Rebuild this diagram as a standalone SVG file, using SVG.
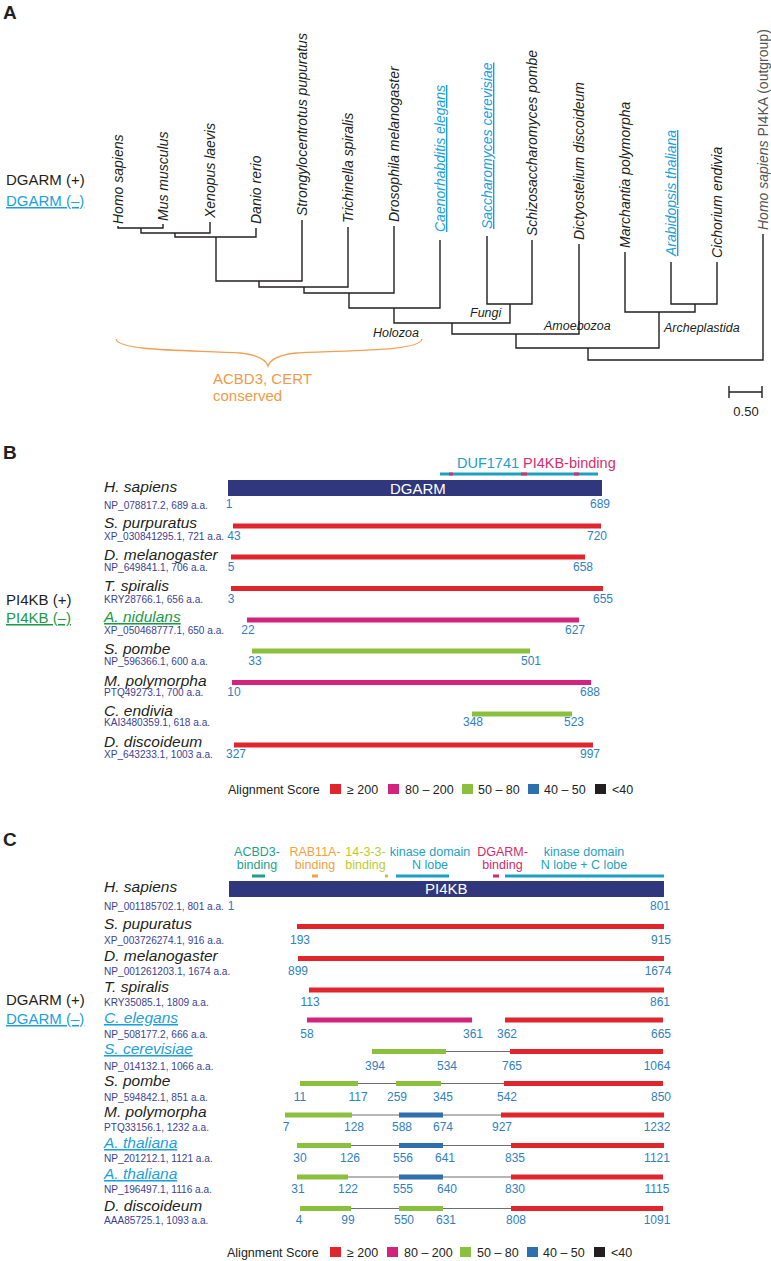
<svg xmlns="http://www.w3.org/2000/svg" width="771" height="1261" viewBox="0 0 771 1261">
<style>
text{font-family:"Liberation Sans",Arial,sans-serif;}
.pl{font-size:19px;font-weight:bold;fill:#231f20;}
.leaf{font-size:14px;font-style:italic;fill:#231f20;}
.leafb{font-size:14px;font-style:italic;fill:#1ca0dc;text-decoration:underline;}
.clade{font-size:12.5px;font-style:italic;fill:#231f20;}
.tree{fill:none;stroke:#231f20;stroke-width:1.4;}
.side{font-size:15px;fill:#231f20;}
.sideb{font-size:15px;fill:#1ca0dc;text-decoration:underline;}
.sideg{font-size:15px;fill:#1a9a48;text-decoration:underline;}
.sp{font-size:15.5px;font-style:italic;fill:#231f20;}
.spb{font-size:15.5px;font-style:italic;fill:#1ca0dc;text-decoration:underline;}
.spg{font-size:15.5px;font-style:italic;fill:#1a9a48;text-decoration:underline;}
.acc{font-size:10.1px;fill:#3d3f91;}
.num{font-size:12px;fill:#2f7fc1;text-anchor:middle;}
.navy{fill:#30377c;}
.bt{font-size:15px;fill:#ffffff;}
.r{stroke:#e0262c;stroke-width:5;}
.m{stroke:#d4237c;stroke-width:5;}
.g{stroke:#8bbf3e;stroke-width:5;}
.b{stroke:#2e6fae;stroke-width:5;}
.ln{stroke:#6d6d6d;stroke-width:1;}
.leg{font-size:12.5px;fill:#231f20;}
.dom{font-size:12.5px;text-anchor:middle;}
</style>

<!-- Panel A -->
<text class="pl" x="3" y="19">A</text>
<g id="legendA">
<text class="side" x="6" y="185">DGARM (+)</text>
<text class="sideb" x="6" y="206">DGARM (–)</text>
</g>
<g id="leaves">
<text class="leaf" transform="translate(123,224) rotate(-90)">Homo sapiens</text>
<text class="leaf" transform="translate(168,221) rotate(-90)">Mus musculus</text>
<text class="leaf" transform="translate(215,218) rotate(-90)">Xenopus laevis</text>
<text class="leaf" transform="translate(261,224) rotate(-90)">Danio rerio</text>
<text class="leaf" transform="translate(307,216) rotate(-90)">Strongylocentrotus pupuratus</text>
<text class="leaf" transform="translate(353,223) rotate(-90)">Trichinella spiralis</text>
<text class="leaf" transform="translate(399,222) rotate(-90)">Drosophila melanogaster</text>
<text class="leafb" transform="translate(445,232) rotate(-90)">Caenorhabditis elegans</text>
<text class="leafb" transform="translate(492,229) rotate(-90)">Saccharomyces cerevisiae</text>
<text class="leaf" transform="translate(537,236) rotate(-90)">Schizosaccharomyces pombe</text>
<text class="leaf" transform="translate(584,240) rotate(-90)">Dictyostelium discoideum</text>
<text class="leaf" transform="translate(630,248) rotate(-90)">Marchantia polymorpha</text>
<text class="leafb" transform="translate(676,256) rotate(-90)">Arabidopsis thaliana</text>
<text class="leaf" transform="translate(722,258) rotate(-90)">Cichorium endivia</text>
<text class="leaf" style="fill:#555;font-style:normal" transform="translate(768,230) rotate(-90)"><tspan font-style="italic">Homo sapiens</tspan> PI4KA (outgroup)</text>
</g>
<g id="tree" class="tree">
<path d="M118 226V228H163V224"/>
<path d="M141 228V233H210V222"/>
<path d="M175 233V237H256V228"/>
<path d="M216 237V281H302V220"/>
<path d="M259 281V287H348V227"/>
<path d="M304 287V293H394V226"/>
<path d="M349 293V308H440V240"/>
<path d="M487 236V304H532V240"/>
<path d="M394 308V323H510V304"/>
<path d="M452 323V334H579V244"/>
<path d="M671 262V304H717V262"/>
<path d="M625 252V312H695V304"/>
<path d="M516 334V348H659V312"/>
<path d="M588 348V360H763V234"/>
</g>
<g id="clades">
<text class="clade" x="373" y="337">Holozoa</text>
<text class="clade" x="470" y="317">Fungi</text>
<text class="clade" x="544" y="330">Amoebozoa</text>
<text class="clade" x="664" y="332">Archeplastida</text>
</g>
<g id="brace">
<path d="M116 339C118 352 200 350 240 353C258 355 266 360 268 366C270 360 278 355 296 353C340 350 420 352 422 339" fill="none" stroke="#f0a050" stroke-width="1.3"/>
<text x="213" y="384" style="font-size:15px;fill:#ef9a48">ACBD3, CERT</text>
<text x="213" y="401" style="font-size:15px;fill:#ef9a48">conserved</text>
</g>
<g id="scalebar">
<path d="M729 392H762M729 386V398M762 386V398" stroke="#231f20" stroke-width="1.4" fill="none"/>
<text x="746" y="416" style="font-size:13px;fill:#231f20;text-anchor:middle">0.50</text>
</g>

<!-- Panel B -->
<text class="pl" x="3" y="459">B</text>
<g id="legendB-side">
<text class="side" x="6" y="605">PI4KB (+)</text>
<text class="sideg" x="6" y="623">PI4KB (–)</text>
</g>
<g id="domainsB">
<text x="457" y="468" style="font-size:14.5px;fill:#1ea0c2">DUF1741</text>
<text x="523" y="468" style="font-size:14.5px;fill:#d2306e">PI4KB-binding</text>
<path d="M440 474H598" stroke="#1ea0c2" stroke-width="3"/>
<path d="M449 474H453M521 474H527M574 474H579" stroke="#d2306e" stroke-width="3"/>
</g>
<g id="B-hsap">
<text class="sp" x="104" y="492">H. sapiens</text>
<rect class="navy" x="228" y="480" width="374" height="16"/>
<text class="bt" x="390" y="494">DGARM</text>
<text class="acc" x="104" y="509">NP_078817.2, 689 a.a.</text>
<text class="num" x="229" y="508">1</text><text class="num" x="600" y="508">689</text>
</g>
<g id="B-spur">
<text class="sp" x="104" y="528">S. purpuratus</text>
<path class="r" d="M233 526H601"/>
<text class="acc" x="104" y="540">XP_030841295.1, 721 a.a.</text>
<text class="num" x="234" y="540">43</text><text class="num" x="597" y="540">720</text>
</g>
<g id="B-dmel">
<text class="sp" x="104" y="560">D. melanogaster</text>
<path class="r" d="M231 557H585"/>
<text class="acc" x="104" y="571">NP_649841.1, 706 a.a.</text>
<text class="num" x="231" y="571">5</text><text class="num" x="583" y="571">658</text>
</g>
<g id="B-tspi">
<text class="sp" x="104" y="591">T. spiralis</text>
<path class="r" d="M231 588.5H603"/>
<text class="acc" x="104" y="603">KRY28766.1, 656 a.a.</text>
<text class="num" x="231" y="603">3</text><text class="num" x="603" y="603">655</text>
</g>
<g id="B-anid">
<text class="spg" x="104" y="622">A. nidulans</text>
<path class="m" d="M247 620H579"/>
<text class="acc" x="104" y="634">XP_050468777.1, 650 a.a.</text>
<text class="num" x="248" y="634">22</text><text class="num" x="575" y="634">627</text>
</g>
<g id="B-spom">
<text class="sp" x="104" y="654">S. pombe</text>
<path class="g" d="M252 651H530"/>
<text class="acc" x="104" y="665">NP_596366.1, 600 a.a.</text>
<text class="num" x="255" y="665">33</text><text class="num" x="531" y="665">501</text>
</g>
<g id="B-mpol">
<text class="sp" x="104" y="686">M. polymorpha</text>
<path class="m" d="M232 682.5H591"/>
<text class="acc" x="104" y="696">PTQ49273.1, 700 a.a.</text>
<text class="num" x="234" y="696">10</text><text class="num" x="590" y="696">688</text>
</g>
<g id="B-cend">
<text class="sp" x="104" y="716">C. endivia</text>
<path class="g" d="M472 714H572"/>
<text class="acc" x="104" y="726">KAI3480359.1, 618 a.a.</text>
<text class="num" x="473" y="726">348</text><text class="num" x="574" y="726">523</text>
</g>
<g id="B-ddis">
<text class="sp" x="104" y="747">D. discoideum</text>
<path class="r" d="M234 745H593"/>
<text class="acc" x="104" y="758">XP_643233.1, 1003 a.a.</text>
<text class="num" x="236" y="758">327</text><text class="num" x="590" y="758">997</text>
</g>
<g id="legendB">
<text class="leg" x="228" y="794">Alignment Score</text>
<rect x="330" y="784" width="11" height="10" fill="#e0262c"/><text class="leg" x="347" y="794">≥ 200</text>
<rect x="388" y="784" width="11" height="10" fill="#d4237c"/><text class="leg" x="405" y="794">80 – 200</text>
<rect x="462" y="784" width="11" height="10" fill="#8bbf3e"/><text class="leg" x="478" y="794">50 – 80</text>
<rect x="528" y="784" width="11" height="10" fill="#2e6fae"/><text class="leg" x="544" y="794">40 – 50</text>
<rect x="595" y="784" width="11" height="10" fill="#231f20"/><text class="leg" x="612" y="794">&lt;40</text>
</g>

<!-- Panel C -->
<text class="pl" x="3" y="846">C</text>
<g id="legendC-side">
<text class="side" x="6" y="1005">DGARM (+)</text>
<text class="sideb" x="6" y="1024">DGARM (–)</text>
</g>
<g id="domainsC">
<text class="dom" x="257" y="856" fill="#1f9e8c">ACBD3-</text><text class="dom" x="257" y="869" fill="#1f9e8c">binding</text>
<path d="M252 876H265" stroke="#1f9e8c" stroke-width="3"/>
<text class="dom" x="315" y="856" fill="#f4a142">RAB11A-</text><text class="dom" x="315" y="869" fill="#f4a142">binding</text>
<path d="M312 876H318" stroke="#f4a142" stroke-width="3"/>
<text class="dom" x="365.5" y="856" fill="#bccb2a">14-3-3-</text><text class="dom" x="365.5" y="869" fill="#bccb2a">binding</text>
<path d="M385 876H388" stroke="#bccb2a" stroke-width="3"/>
<text class="dom" x="430" y="856" fill="#1e9fc4">kinase domain</text><text class="dom" x="430" y="869" fill="#1e9fc4">N lobe</text>
<path d="M396 876H449" stroke="#1e9fc4" stroke-width="3"/>
<text class="dom" x="502.5" y="856" fill="#d22a6a">DGARM-</text><text class="dom" x="502.5" y="869" fill="#d22a6a">binding</text>
<path d="M493 876H499" stroke="#d22a6a" stroke-width="3"/>
<text class="dom" x="584" y="856" fill="#1e9fc4">kinase domain</text><text class="dom" x="584" y="869" fill="#1e9fc4">N lobe + C lobe</text>
<path d="M505 876H664" stroke="#1e9fc4" stroke-width="3"/>
</g>
<g id="C-hsap">
<text class="sp" x="104" y="892">H. sapiens</text>
<rect class="navy" x="229" y="881" width="435" height="16"/>
<text class="bt" x="425" y="894">PI4KB</text>
<text class="acc" x="104" y="910">NP_001185702.1, 801 a.a.</text>
<text class="num" x="231" y="910">1</text><text class="num" x="660" y="910">801</text>
</g>
<g id="C-spur">
<text class="sp" x="104" y="929">S. pupuratus</text>
<path class="r" d="M297 926.5H664"/>
<text class="acc" x="104" y="944">XP_003726274.1, 916 a.a.</text>
<text class="num" x="300" y="944">193</text><text class="num" x="661" y="944">915</text>
</g>
<g id="C-dmel">
<text class="sp" x="104" y="961">D. melanogaster</text>
<path class="r" d="M298 958.5H664"/>
<text class="acc" x="104" y="975">NP_001261203.1, 1674 a.a.</text>
<text class="num" x="298" y="975">899</text><text class="num" x="658" y="975">1674</text>
</g>
<g id="C-tspi">
<text class="sp" x="104" y="992">T. spiralis</text>
<path class="r" d="M309 990H664"/>
<text class="acc" x="104" y="1006">KRY35085.1, 1809 a.a.</text>
<text class="num" x="310" y="1006">113</text><text class="num" x="660" y="1006">861</text>
</g>
<g id="C-cele">
<text class="spb" x="104" y="1023">C. elegans</text>
<path class="m" d="M307 1020H472"/><path class="r" d="M505 1020H663"/>
<text class="acc" x="104" y="1038">NP_508177.2, 666 a.a.</text>
<text class="num" x="307" y="1038">58</text><text class="num" x="473" y="1038">361</text><text class="num" x="507" y="1038">362</text><text class="num" x="661" y="1038">665</text>
</g>
<g id="C-scer">
<text class="spb" x="104" y="1054">S. cerevisiae</text>
<path class="ln" d="M446 1051.5H510"/>
<path class="g" d="M372 1051.5H446"/><path class="r" d="M510 1051.5H663"/>
<text class="acc" x="104" y="1070">NP_014132.1, 1066 a.a.</text>
<text class="num" x="375" y="1070">394</text><text class="num" x="447" y="1070">534</text><text class="num" x="512" y="1070">765</text><text class="num" x="657" y="1070">1064</text>
</g>
<g id="C-spom">
<text class="sp" x="104" y="1086">S. pombe</text>
<path class="ln" d="M358 1083.5H504"/>
<path class="g" d="M300 1083.5H358"/><path class="g" d="M396 1083.5H441"/><path class="r" d="M504 1083.5H663"/>
<text class="acc" x="104" y="1101">NP_594842.1, 851 a.a.</text>
<text class="num" x="300" y="1101">11</text><text class="num" x="358" y="1101">117</text><text class="num" x="397" y="1101">259</text><text class="num" x="443" y="1101">345</text><text class="num" x="507" y="1101">542</text><text class="num" x="661" y="1101">850</text>
</g>
<g id="C-mpol">
<text class="sp" x="104" y="1117">M. polymorpha</text>
<path class="ln" d="M352 1115H501"/>
<path class="g" d="M285 1115H352"/><path class="b" d="M399 1115H443"/><path class="r" d="M501 1115H664"/>
<text class="acc" x="104" y="1131">PTQ33156.1, 1232 a.a.</text>
<text class="num" x="286" y="1131">7</text><text class="num" x="354" y="1131">128</text><text class="num" x="402" y="1131">588</text><text class="num" x="443" y="1131">674</text><text class="num" x="502" y="1131">927</text><text class="num" x="657" y="1131">1232</text>
</g>
<g id="C-atha1">
<text class="spb" x="104" y="1148">A. thaliana</text>
<path class="ln" d="M351 1145.5H511"/>
<path class="g" d="M297 1145.5H351"/><path class="b" d="M399 1145.5H443"/><path class="r" d="M511 1145.5H664"/>
<text class="acc" x="104" y="1162">NP_201212.1, 1121 a.a.</text>
<text class="num" x="300" y="1162">30</text><text class="num" x="350" y="1162">126</text><text class="num" x="403" y="1162">556</text><text class="num" x="445" y="1162">641</text><text class="num" x="515" y="1162">835</text><text class="num" x="657" y="1162">1121</text>
</g>
<g id="C-atha2">
<text class="spb" x="104" y="1179">A. thaliana</text>
<path class="ln" d="M348 1177H511"/>
<path class="g" d="M297 1177H348"/><path class="b" d="M399 1177H443"/><path class="r" d="M511 1177H663"/>
<text class="acc" x="104" y="1193">NP_196497.1, 1116 a.a.</text>
<text class="num" x="298" y="1193">31</text><text class="num" x="348" y="1193">122</text><text class="num" x="403" y="1193">555</text><text class="num" x="447" y="1193">640</text><text class="num" x="515" y="1193">830</text><text class="num" x="657" y="1193">1115</text>
</g>
<g id="C-ddis">
<text class="sp" x="104" y="1211">D. discoideum</text>
<path class="ln" d="M351 1208.5H511"/>
<path class="g" d="M300 1208.5H351"/><path class="g" d="M399 1208.5H443"/><path class="r" d="M511 1208.5H663"/>
<text class="acc" x="104" y="1224">AAA85725.1, 1093 a.a.</text>
<text class="num" x="299" y="1224">4</text><text class="num" x="348" y="1224">99</text><text class="num" x="404" y="1224">550</text><text class="num" x="446" y="1224">631</text><text class="num" x="516" y="1224">808</text><text class="num" x="657" y="1224">1091</text>
</g>
<g id="legendC">
<text class="leg" x="227" y="1257">Alignment Score</text>
<rect x="330" y="1247" width="11" height="10" fill="#e0262c"/><text class="leg" x="347" y="1257">≥ 200</text>
<rect x="387" y="1247" width="11" height="10" fill="#d4237c"/><text class="leg" x="404" y="1257">80 – 200</text>
<rect x="460" y="1247" width="11" height="10" fill="#8bbf3e"/><text class="leg" x="477" y="1257">50 – 80</text>
<rect x="527" y="1247" width="11" height="10" fill="#2e6fae"/><text class="leg" x="543" y="1257">40 – 50</text>
<rect x="594" y="1247" width="11" height="10" fill="#231f20"/><text class="leg" x="611" y="1257">&lt;40</text>
</g>
</svg>
